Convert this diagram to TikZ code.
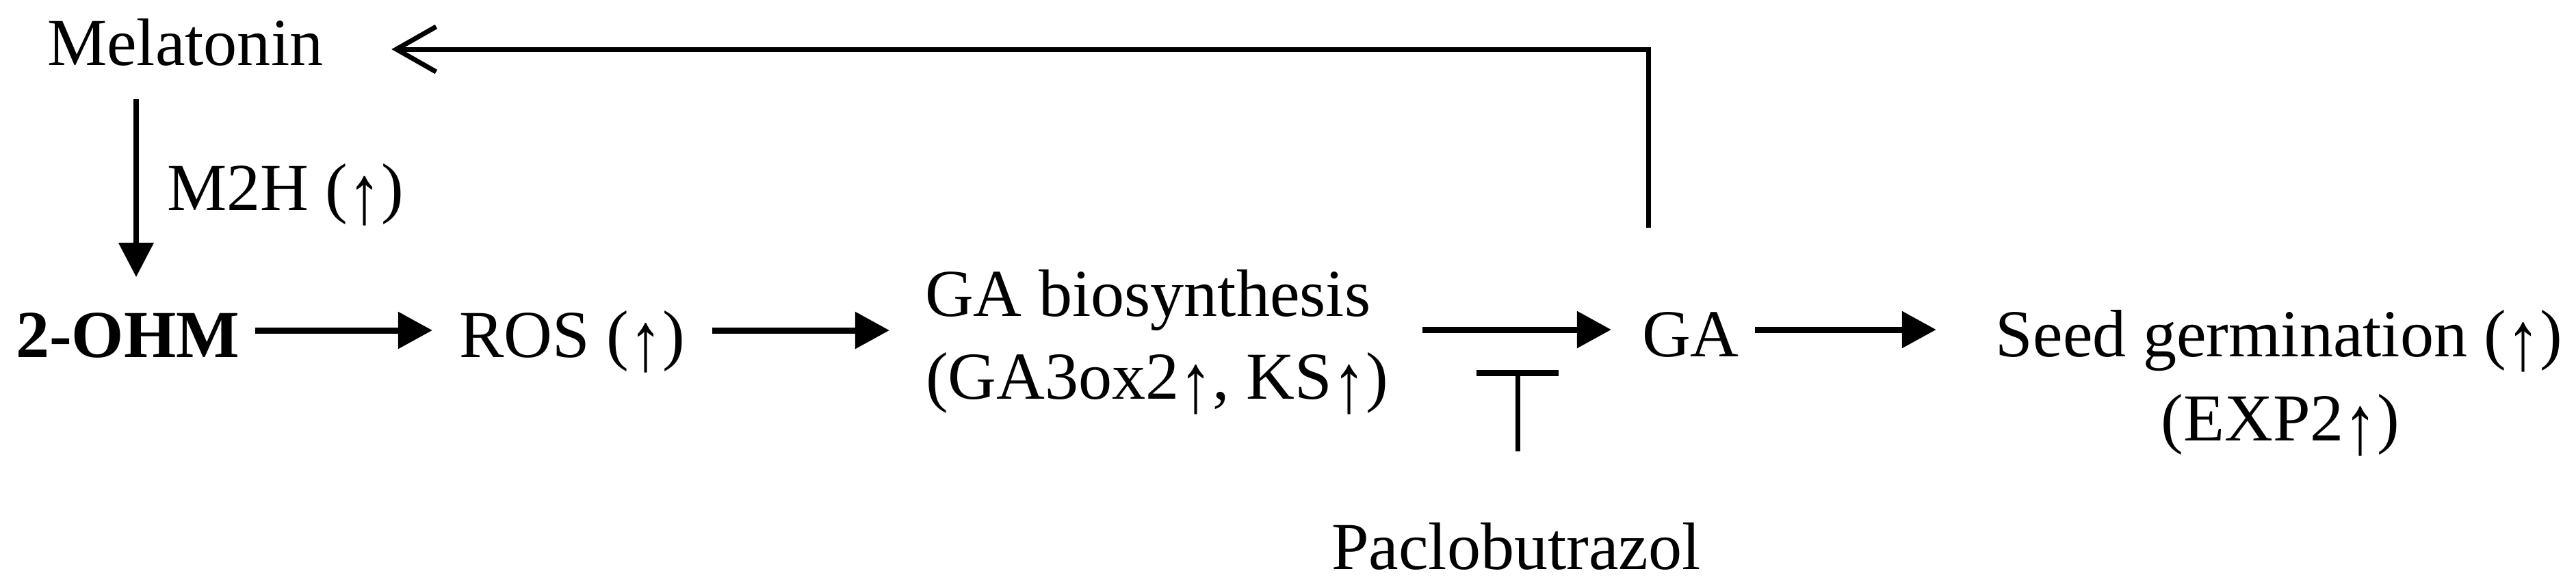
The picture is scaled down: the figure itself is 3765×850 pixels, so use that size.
\documentclass[tikz,border=0pt]{standalone}
\usepackage{fontspec}
\usepackage{graphicx}
\setmainfont{Liberation Serif}
\usetikzlibrary{arrows.meta,calc}
\newcommand\upar{\raisebox{-0.2em}{\scalebox{1}[1.25]{↑}}}
\tikzset{
  lbl/.style={inner sep=0pt, outer sep=0pt, anchor=base west, font=\fontsize{27.9}{34.4}\selectfont},
  harr/.style={line width=2.56pt, -{Triangle[length=0.5cm,width=0.52cm]}},
  varr/.style={line width=2pt, -{Triangle[length=0.5cm,width=0.5cm]}},
  fbarr/.style={line width=2pt, -{Straight Barb[length=0.58cm,width=0.66cm]}},
  inhib/.style={line width=2pt, -{Bar[width=1.2cm,line width=2.6pt]}},
}
\begin{document}
\begin{tikzpicture}[x=0.01cm, y=-0.01cm]
\useasboundingbox (0,0) rectangle (3765,850);
% nodes
\node[lbl] (mel) at (69,95) {Melatonin};
\node[lbl] (m2h) at (244,307) {M2H (\upar)};
\node[lbl, font=\fontsize{27.9}{34.4}\selectfont\bfseries] (ohm) at (23,522) {2-OHM};
\node[lbl] (ros) at (671,522) {ROS (\upar)};
\node[lbl] (gab1) at (1352,462) {GA biosynthesis};
\node[lbl] (gab2) at (1353,583) {(GA3ox2\upar, KS\upar)};
\node[lbl] (ga) at (2400,521) {GA};
\node[lbl, anchor=base] (pac) at (2216,832) {Paclobutrazol};
\node[lbl, anchor=base] (seed) at (3331,521) {Seed germination (\upar)};
\node[lbl, anchor=base] (exp) at (3333,644) {(EXP2\upar)};
% connectors
\draw[varr] ($(mel.base west)+(130,50)$) -- ($(ohm.base west)+(176,-117)$);
\draw[harr] ($(ohm.base east)+(23,-39)$) -- ($(ros.base west)+(-39,-39)$);
\draw[harr] ($(ros.base east)+(40,-39)$) -- ($(gab1.base west)+(-52,21)$);
\draw[harr] ($(gab2.base east |- ga.base)+(50,-39)$) -- ($(ga.base west)+(-45,-39)$);
\draw[harr] ($(ga.base east)+(23,-39)$) -- ($(seed.base west)+(-87,-39)$);
\draw[inhib] ($(pac.base)+(2,-172)$) -- ($(pac.base)+(2,-291)$);
\draw[fbarr] ($(ga.base west)+(9,-188)$) |- ($(mel.base east)+(100,-23)$);
\end{tikzpicture}
\end{document}
